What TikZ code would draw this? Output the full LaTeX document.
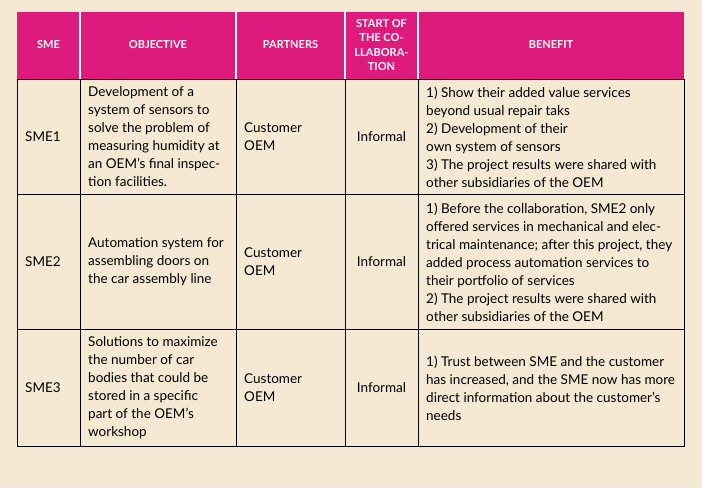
\documentclass[tikz,border=0pt]{standalone}
\usepackage{fontspec}
\setmainfont{Lato}
\definecolor{bg}{HTML}{F5E9D4}
\definecolor{mag}{HTML}{DE1B7C}
\begin{document}
\begin{tikzpicture}[x=1pt,y=-1pt,
  cell/.style={anchor=west,align=left,inner sep=0pt,font=\fontsize{13.5}{18}\selectfont},
  hd/.style={align=center,inner sep=0pt,text=white,font=\fontsize{11}{14.5}\selectfont\bfseries}]
\fill[bg] (0,0) rectangle (702,488);
\useasboundingbox (0,0) rectangle (702,488);
\fill[mag] (17,12) rectangle (684,79);
\foreach \x in {80,236,345,418} \draw[white,line width=1.2pt] (\x,12) -- (\x,79);
\draw[line width=1pt] (17,79) rectangle (684,446);
\foreach \x in {80,236,345,418} \draw[line width=1pt] (\x,79) -- (\x,446);
\foreach \y in {194,329} \draw[line width=1pt] (17,\y) -- (684,\y);
\node[hd] (h1) at (48.5,45) {SME};
\node[hd] (h2) at (158,45) {OBJECTIVE};
\node[hd] (h3) at (290.5,45) {PARTNERS};
\node[hd] (h4) at (381.5,45) {START OF\\THE CO-\\LLABORA-\\TION};
\node[hd] (h5) at (551,45) {BENEFIT};
% row 1
\node[cell] (a1) at (25,137) {SME1};
\node[cell] (b1) at (88,137) {Development of a\\system of sensors to\\solve the problem of\\measuring humidity at\\an OEM's final inspec-\\tion facilities.};
\node[cell] (c1) at (244,137) {Customer\\OEM};
\node[cell,anchor=center] (d1) at (381.5,137) {Informal};
\node[cell] (e1) at (426,137) {1) Show their added value services\\beyond usual repair taks\\2) Development of their\\own system of sensors\\3) The project results were shared with\\other subsidiaries of the OEM};
% row 2
\node[cell] (a2) at (25,262) {SME2};
\node[cell] (b2) at (88,262) {Automation system for\\assembling doors on\\the car assembly line};
\node[cell] (c2) at (244,262) {Customer\\OEM};
\node[cell,anchor=center] (d2) at (381.5,262) {Informal};
\node[cell] (e2) at (426,262) {1) Before the collaboration, SME2 only\\offered services in mechanical and elec-\\trical maintenance; after this project, they\\added process automation services to\\their portfolio of services\\2) The project results were shared with\\other subsidiaries of the OEM};
% row 3
\node[cell] (a3) at (25,388) {SME3};
\node[cell] (b3) at (88,388) {Solutions to maximize\\the number of car\\bodies that could be\\stored in a specific\\part of the OEM's\\workshop};
\node[cell] (c3) at (244,388) {Customer\\OEM};
\node[cell,anchor=center] (d3) at (381.5,388) {Informal};
\node[cell] (e3) at (426,388) {1) Trust between SME and the customer\\has increased, and the SME now has more\\direct information about the customer's\\needs};
\end{tikzpicture}
\end{document}
